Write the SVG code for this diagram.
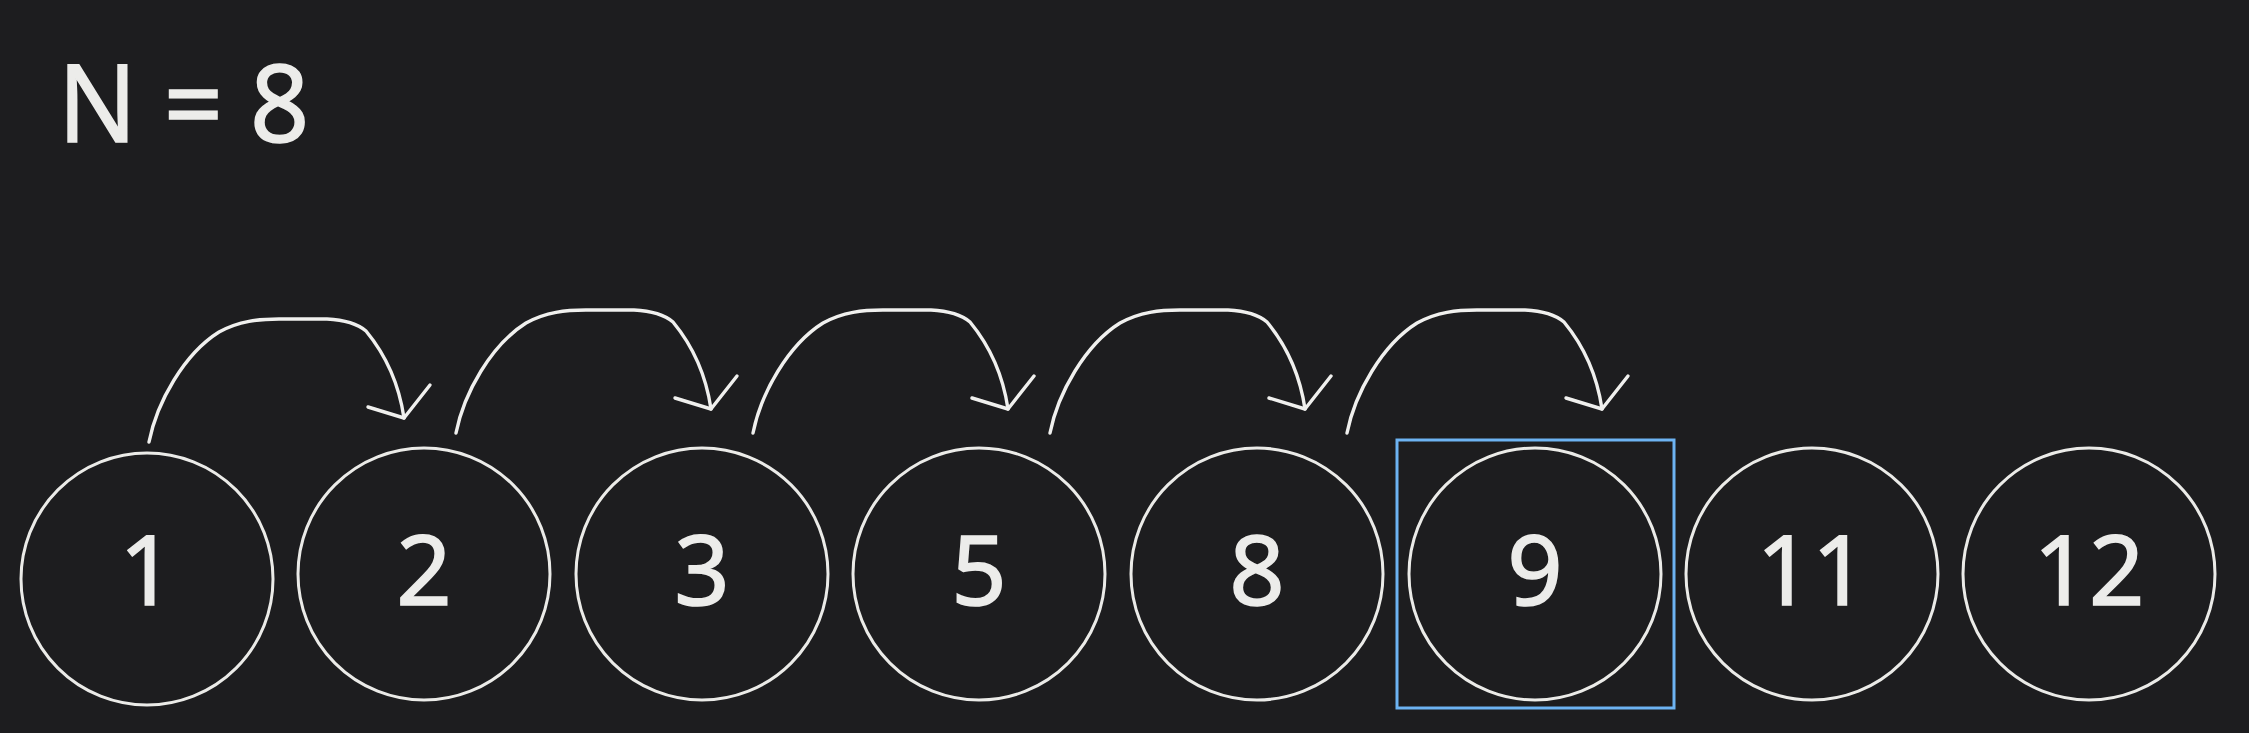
<svg xmlns="http://www.w3.org/2000/svg" xmlns:xlink="http://www.w3.org/1999/xlink" width="2249" height="733" viewBox="0 0 2249 733">
<style>
.bg{fill:#1d1d1f}
.node circle{fill:none;stroke:#ebebe8;stroke-width:3}
.node text{font-family:"Noto Sans","Open Sans",sans-serif;font-size:97px;fill:#ececea;stroke:#ececea;stroke-width:1.5;text-anchor:middle}
.title{font-family:"Noto Sans","Open Sans",sans-serif;font-size:108px;fill:#ececea;stroke:#ececea;stroke-width:1.5}
.arc{fill:none;stroke:#f0f0ee;stroke-width:3.4;stroke-linecap:round;stroke-linejoin:round}
.sel{fill:none;stroke:#6db3f2;stroke-width:3}
</style>
<defs>
<g id="jump">
<path class="arc" d="M0,0 C8,-40 35,-88 70,-110 C90,-121 110,-123 130,-123 L178,-123 C198,-122 210,-117 217,-111 C236,-88 250,-58 255,-24"/>
<path class="arc" d="M219,-35 L255,-24 L281,-57"/>
</g>
</defs>
<rect class="bg" x="0" y="0" width="2249" height="733"/>
<text class="title" x="0" y="0" transform="translate(58,142) scale(0.96,1)">N = 8</text>
<g id="node-1" class="node"><circle cx="147" cy="579" r="126"/><text x="147" y="605">1</text></g>
<g id="node-2" class="node"><circle cx="424" cy="574" r="126"/><text x="424" y="605">2</text></g>
<g id="node-3" class="node"><circle cx="702" cy="574" r="126"/><text x="702" y="605">3</text></g>
<g id="node-5" class="node"><circle cx="979" cy="574" r="126"/><text x="979" y="605">5</text></g>
<g id="node-8" class="node"><circle cx="1257" cy="574" r="126"/><text x="1257" y="605">8</text></g>
<g id="node-9" class="node"><rect class="sel" x="1397" y="440" width="277" height="268"/><circle cx="1535" cy="574" r="126"/><text x="1535" y="605">9</text></g>
<g id="node-11" class="node"><circle cx="1812" cy="574" r="126"/><text x="1812" y="605">11</text></g>
<g id="node-12" class="node"><circle cx="2089" cy="574" r="126"/><text x="2089" y="605">12</text></g>
<g id="connectors">
<use xlink:href="#jump" x="149" y="442"/>
<use xlink:href="#jump" x="456" y="433"/>
<use xlink:href="#jump" x="753" y="433"/>
<use xlink:href="#jump" x="1050" y="433"/>
<use xlink:href="#jump" x="1347" y="433"/>
</g>
</svg>
